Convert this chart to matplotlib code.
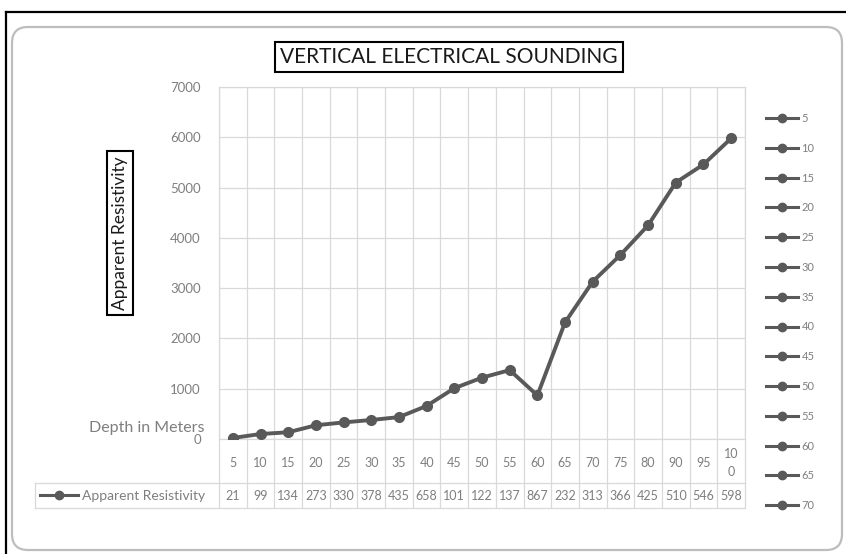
import textwrap
import numpy as np
import matplotlib
matplotlib.use("Agg")
import matplotlib.pyplot as plt
from matplotlib.lines import Line2D
from matplotlib.patches import FancyBboxPatch, Rectangle
from matplotlib.transforms import IdentityTransform, blended_transform_factory

depth = [5, 10, 15, 20, 25, 30, 35, 40, 45, 50, 55, 60, 65, 70, 75, 80, 90, 95, 100]
resistivity = [21, 99, 134, 273, 330, 378, 435, 658, 1010, 1220, 1370, 867,
               2320, 3130, 3660, 4250, 5100, 5460, 5980]
legend_depths = depth[:14]
yticks = [0, 1000, 2000, 3000, 4000, 5000, 6000, 7000]

W, H = 846, 554
LINE = '#595959'
GRID = '#d9d9d9'
TXT = '#7f7f7f'

plt.rcParams['font.family'] = ['Lato', 'DejaVu Sans']


def fx(x):
    return x / W


def fy(y):
    return 1 - y / H


fig = plt.figure(figsize=(W / 100, H / 100), dpi=100)
fig.patch.set_facecolor('white')

# chart frame: black outer edge and rounded grey chart area
px = IdentityTransform()
fig.add_artist(FancyBboxPatch((12, 4), 830, 523, boxstyle='round,pad=0,rounding_size=16',
                              transform=px, facecolor='white', edgecolor='#bdbdbd', lw=1.6,
                              zorder=-10))
fig.add_artist(Line2D([6, 6], [0, 542], transform=px, color='black', lw=1.6))
fig.add_artist(Line2D([6, 846], [542, 542], transform=px, color='black', lw=1.6))

ax = fig.add_axes([fx(219), fy(439), (745 - 219) / W, (439 - 87) / H])
ax.set_facecolor('none')
x = np.arange(len(depth))
ax.plot(x, resistivity, color=LINE, lw=2.8, marker='o', ms=7, zorder=3)

ax.set_xlim(-0.5, len(depth) - 0.5)
ax.set_ylim(0, 7000)
ax.set_yticks(yticks)
ax.set_xticks([])
ax.set_xticks(np.arange(-0.5, len(depth), 1), minor=True)
ax.tick_params(axis='y', length=0, pad=13, labelcolor=TXT, labelsize=9.5)
ax.tick_params(axis='x', which='both', length=0)
ax.grid(axis='y', color=GRID, lw=0.9)
ax.grid(axis='x', which='minor', color=GRID, lw=0.9)
for s in ax.spines.values():
    s.set_color(GRID)
    s.set_linewidth(0.9)

# data table under the plot
ax_h = 439 - 87
bt = blended_transform_factory(ax.transData, ax.transAxes)


def ay(y):
    return (439 - y) / ax_h


ax.vlines(np.arange(-0.5, len(depth), 1), ay(508), 0, transform=bt, color=GRID, lw=0.9, clip_on=False)
for yy in (483, 508):
    fig.add_artist(Line2D([fx(35), fx(745)], [fy(yy), fy(yy)], color=GRID, lw=0.9))
fig.add_artist(Line2D([fx(35), fx(35)], [fy(483), fy(508)], color=GRID, lw=0.9))

for i, d in enumerate(depth):
    ax.text(i, ay(463), "\n".join(textwrap.wrap(str(d), 2)), transform=bt, ha='center',
            va='center', fontsize=9, color=TXT, linespacing=1.7, clip_on=False)
    # narrow cells wrap long numbers; only the first line fits in the row
    t = ax.text(i, ay(490), "\n".join(textwrap.wrap(str(resistivity[i]), 3)), transform=bt,
                ha='center', va='top', fontsize=9, color=TXT, linespacing=1.3, clip_on=True)
    t.set_clip_path(Rectangle((i - 0.5, ay(505)), 1, ay(484) - ay(505), transform=bt))

key = Line2D([], [], color=LINE, lw=2.2, marker='o', ms=6)
fig.legend([key], ['Apparent Resistivity'], loc='center left', bbox_to_anchor=(fx(40), fy(496)),
           frameon=False, fontsize=10, labelcolor=TXT, handlelength=2.7, handletextpad=0.3,
           borderaxespad=0, borderpad=0)

handles = [Line2D([], [], color=LINE, lw=2.2, marker='o', ms=6) for _ in legend_depths]
fig.legend(handles, [str(d) for d in legend_depths], loc='upper left',
           bbox_to_anchor=(fx(766), fy(113)), frameon=False, fontsize=8, labelcolor=TXT,
           handlelength=2.9, handletextpad=0.3, labelspacing=1.69, borderaxespad=0, borderpad=0)

fig.text(fx(449), fy(57), 'VERTICAL ELECTRICAL SOUNDING', ha='center', va='center',
         fontsize=15, color='#1a1a1a',
         bbox=dict(boxstyle='square,pad=0.25', facecolor='white', edgecolor='black', lw=1.5))
fig.text(fx(120), fy(233), 'Apparent Resistivity', rotation=90, ha='center', va='center',
         fontsize=12.5, color='#1a1a1a',
         bbox=dict(boxstyle='square,pad=0.3', facecolor='white', edgecolor='black', lw=1.5))
fig.text(fx(204), fy(428), 'Depth in Meters', ha='right', va='center', fontsize=11.5, color=TXT)

fig.savefig('out.png', dpi=100)
